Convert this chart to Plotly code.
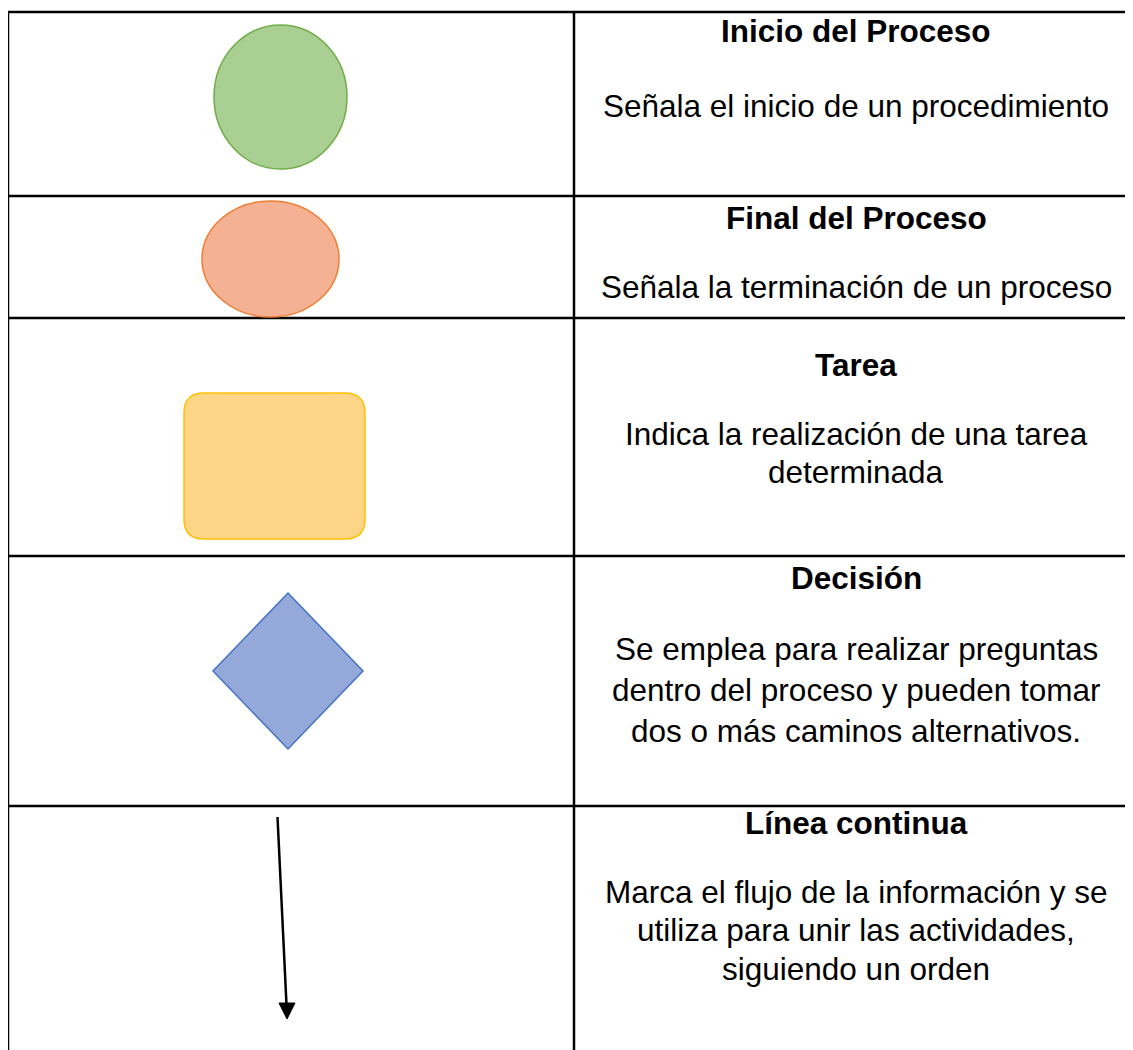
import plotly.graph_objects as go

# ---- data ----
titles = ["Inicio del Proceso", "Final del Proceso", "Tarea", "Decisión", "Línea continua"]
descriptions = [
    ["Señala el inicio de un procedimiento"],
    ["Señala la terminación de un proceso"],
    ["Indica la realización de una tarea", "determinada"],
    ["Se emplea para realizar preguntas", "dentro del proceso y pueden tomar", "dos o más caminos alternativos."],
    ["Marca el flujo de la información y se", "utiliza para unir las actividades,", "siguiendo un orden"],
]
symbols = ["ellipse", "circle", "rounded", "diamond", "arrow"]

# ---- layout constants ----
W, H = 1133, 1050
OFF = 8  # page body margin
row_lines = [12, 196, 318, 556, 806]
left_x, col_x = 8, 574
text_cx = 856
title_y = [31, 218, 365, 578, 823]
desc_y = [[106], [287], [434, 472], [649, 690, 731], [892, 930, 969]]
FONT = "Liberation Sans, Arial, Helvetica, sans-serif"
BORDER = dict(color="black", width=2.5)

fig = go.Figure()
fig.add_trace(go.Scatter(x=[OFF, W], y=[OFF, H], mode="markers", marker=dict(opacity=0),
                         hoverinfo="skip", showlegend=False))

shapes = []
# table grid
for y in row_lines:
    shapes.append(dict(type="line", x0=left_x - 1.2, x1=W + OFF, y0=y, y1=y, line=BORDER))
for x in (left_x, col_x):
    shapes.append(dict(type="line", x0=x, x1=x, y0=row_lines[0], y1=H + OFF, line=BORDER))

# symbols
styles = {
    "ellipse": dict(fill="#a9cf92", line="#70ad47"),
    "circle": dict(fill="#f5b193", line="#ed7d31"),
    "rounded": dict(fill="#fdd587", line="#ffc000"),
    "diamond": dict(fill="#94a8da", line="#4472c4"),
}
for s in symbols:
    if s == "ellipse":
        st = styles[s]
        shapes.append(dict(type="circle", x0=214, x1=347, y0=25, y1=169,
                           fillcolor=st["fill"], line=dict(color=st["line"], width=1.5)))
    elif s == "circle":
        st = styles[s]
        shapes.append(dict(type="circle", x0=202, x1=339, y0=201, y1=317,
                           fillcolor=st["fill"], line=dict(color=st["line"], width=1.5)))
    elif s == "rounded":
        st = styles[s]
        x0, x1, y0, y1, r = 184, 365, 393, 539, 20
        path = (f"M {x0+r},{y0} L {x1-r},{y0} Q {x1},{y0} {x1},{y0+r} L {x1},{y1-r} "
                f"Q {x1},{y1} {x1-r},{y1} L {x0+r},{y1} Q {x0},{y1} {x0},{y1-r} "
                f"L {x0},{y0+r} Q {x0},{y0} {x0+r},{y0} Z")
        shapes.append(dict(type="path", path=path, fillcolor=st["fill"],
                           line=dict(color=st["line"], width=1.5)))
    elif s == "diamond":
        st = styles[s]
        cx, cy, hw, hh = 288, 671, 75, 78
        path = f"M {cx},{cy-hh} L {cx+hw},{cy} L {cx},{cy+hh} L {cx-hw},{cy} Z"
        shapes.append(dict(type="path", path=path, fillcolor=st["fill"],
                           line=dict(color=st["line"], width=1.5)))
    elif s == "arrow":
        shapes.append(dict(type="line", x0=277.5, y0=817, x1=286.5, y1=1005,
                           line=dict(color="black", width=2.5)))
        shapes.append(dict(type="path", path="M 279,1003 L 295,1003 L 287,1019 Z",
                           fillcolor="black", line=dict(color="black", width=1)))

annotations = []
for t, ty, lines, ly in zip(titles, title_y, descriptions, desc_y):
    annotations.append(dict(x=text_cx, y=ty, text=f"<b>{t}</b>", showarrow=False,
                            xanchor="center", yanchor="middle",
                            font=dict(family=FONT, size=31.5, color="black")))
    for line, yy in zip(lines, ly):
        annotations.append(dict(x=text_cx, y=yy, text=line, showarrow=False,
                                xanchor="center", yanchor="middle",
                                font=dict(family=FONT, size=31.5, color="black")))

fig.update_layout(
    width=W, height=H,
    margin=dict(l=0, r=0, t=0, b=0),
    paper_bgcolor="white", plot_bgcolor="white",
    xaxis=dict(range=[OFF, W + OFF], visible=False, fixedrange=True),
    yaxis=dict(range=[H + OFF, OFF], visible=False, fixedrange=True),
    shapes=shapes, annotations=annotations, showlegend=False,
)
fig.write_html("out.html")
